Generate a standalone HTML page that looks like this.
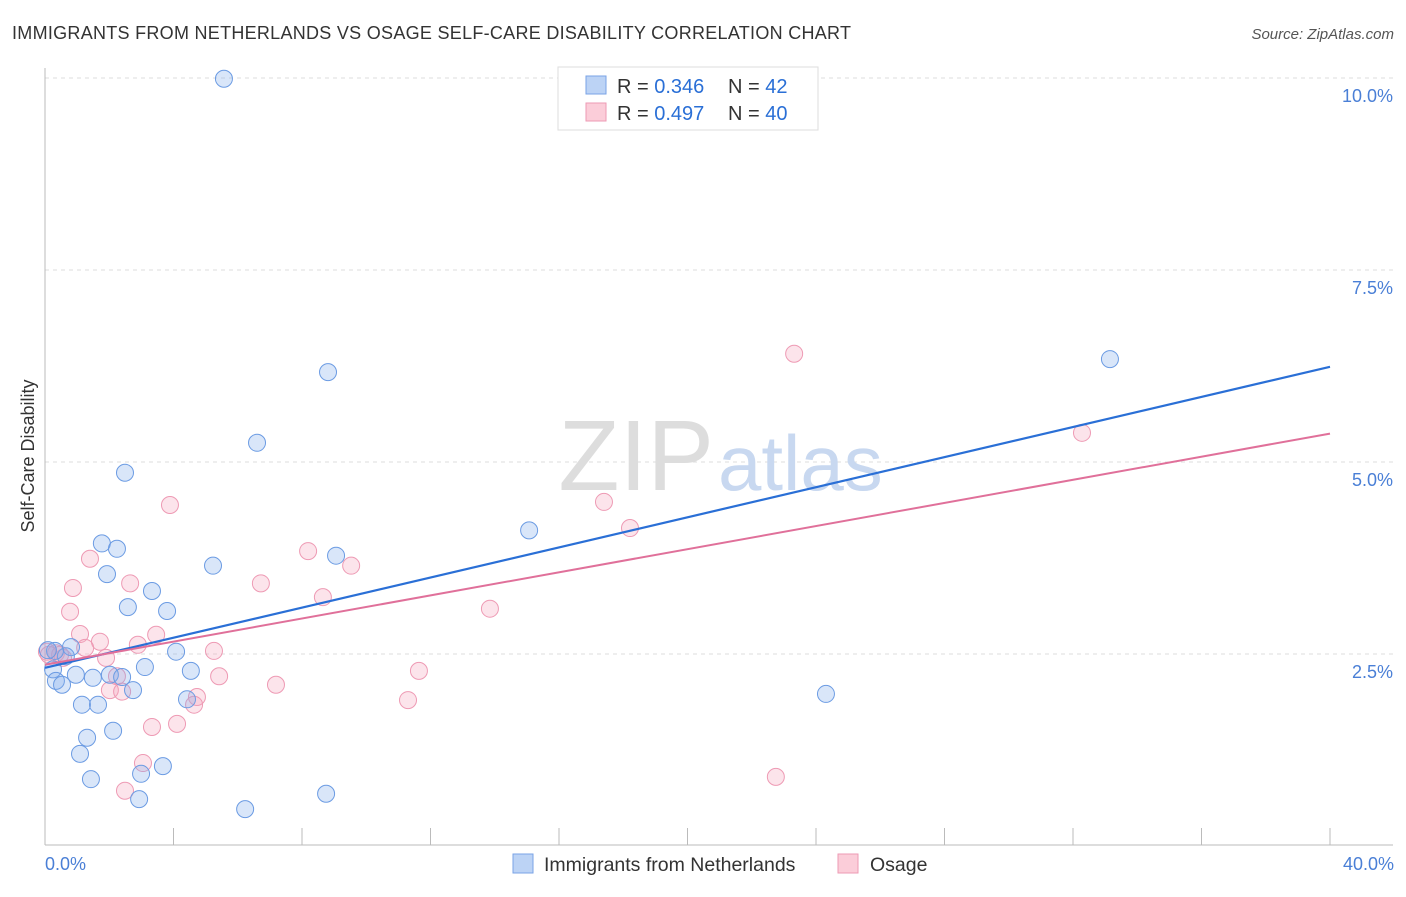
<!DOCTYPE html>
<html><head><meta charset="utf-8"><style>
body{margin:0;background:#fff;font-family:"Liberation Sans",sans-serif;}
svg text{font-family:"Liberation Sans",sans-serif;}
</style></head><body>
<svg width="1406" height="892" xmlns="http://www.w3.org/2000/svg">
<text x="12" y="39" font-size="18" fill="#333" textLength="839">IMMIGRANTS FROM NETHERLANDS VS OSAGE SELF-CARE DISABILITY CORRELATION CHART</text>
<text x="1394" y="39" font-size="15" fill="#555" text-anchor="end" font-style="italic">Source: ZipAtlas.com</text>
<g id="grid"></g>
<text x="714" y="490" font-size="100" font-family="Liberation Serif" fill="#ddd" text-anchor="end">ZIP</text>
<text x="718" y="490" font-size="78" fill="#c8d8f0">atlas</text>
<line x1="45" y1="68" x2="45" y2="845" stroke="#bbb"/>
<line x1="45" y1="845" x2="1393" y2="845" stroke="#bbb"/>
<g id="plot"></g>
<text x="34" y="456" font-size="18" fill="#333" text-anchor="middle" transform="rotate(-90 34 456)">Self-Care Disability</text>
<text x="45" y="870" font-size="18" fill="#4a7fd6">0.0%</text>
<text x="1394" y="870" font-size="18" fill="#4a7fd6" text-anchor="end">40.0%</text>
<g>
<rect x="558" y="67" width="260" height="63" fill="#fff" stroke="#ddd"/>
<rect x="586" y="76" width="20" height="18" fill="#bcd3f5" stroke="#7aa3e6"/>
<rect x="586" y="103" width="20" height="18" fill="#fbcdd9" stroke="#ee9ab4"/>
<text x="617" y="93" font-size="20" fill="#333">R = <tspan fill="#2a6fd6">0.346</tspan></text>
<text x="728" y="93" font-size="20" fill="#333">N = <tspan fill="#2a6fd6"> 42</tspan></text>
<text x="617" y="120" font-size="20" fill="#333">R = <tspan fill="#2a6fd6">0.497</tspan></text>
<text x="728" y="120" font-size="20" fill="#333">N = <tspan fill="#2a6fd6">40</tspan></text>
</g>
<g>
<rect x="513" y="854" width="20" height="19" fill="#bcd3f5" stroke="#7aa3e6"/>
<text x="544" y="871" font-size="19.5" fill="#333">Immigrants from Netherlands</text>
<rect x="838" y="854" width="20" height="19" fill="#fbcdd9" stroke="#ee9ab4"/>
<text x="870" y="871" font-size="19.5" fill="#333">Osage</text>
</g>
</svg>
<script>
const yTicks=[2.5,5.0,7.5,10.0];
const xTicks=[0,4,8,12,16,20,24,28,32,36,40];
const blueX=[5.57,8.81,6.60,2.49,33.15,15.07,1.77,2.24,9.06,5.23,1.93,3.33,2.58,3.80,0.81,4.08,0.65,0.31,3.11,4.54,0.96,1.49,2.02,2.40,0.25,0.34,0.53,2.74,4.42,24.31,1.15,1.65,2.12,1.31,1.09,3.67,2.99,1.43,2.93,8.75,6.23,0.09];
const blueY=[9.99,6.17,5.25,4.86,6.34,4.11,3.94,3.87,3.78,3.65,3.54,3.32,3.11,3.06,2.59,2.53,2.47,2.54,2.33,2.28,2.23,2.19,2.23,2.20,2.30,2.15,2.10,2.03,1.91,1.98,1.84,1.84,1.50,1.41,1.20,1.04,0.94,0.87,0.61,0.68,0.48,2.55];
const pinkX=[23.32,32.28,3.89,17.40,18.21,1.40,8.19,9.53,0.87,2.65,6.72,8.65,0.78,13.85,1.09,3.46,2.89,1.71,5.26,1.25,0.34,0.06,0.56,1.90,11.64,5.42,2.24,7.19,4.73,2.02,2.40,4.64,11.30,3.33,4.11,3.05,2.49,22.75,0.12,0.47];
const pinkY=[6.41,5.38,4.44,4.48,4.14,3.74,3.84,3.65,3.36,3.42,3.42,3.24,3.05,3.09,2.76,2.75,2.62,2.66,2.54,2.58,2.51,2.53,2.45,2.45,2.28,2.21,2.21,2.10,1.94,2.03,2.01,1.84,1.90,1.55,1.59,1.08,0.72,0.90,2.49,2.49];
const blueTrend=[2.32,6.24];
const pinkTrend=[2.36,5.37];
const NS="http://www.w3.org/2000/svg";
const xs=v=>45+v/40*1285, ys=v=>846-v/2.5*192;
function mk(t,a,p){const e=document.createElementNS(NS,t);for(const k in a)e.setAttribute(k,a[k]);p.appendChild(e);return e;}
const grid=document.getElementById('grid'), plot=document.getElementById('plot');
yTicks.forEach(t=>{
  const l=mk('line',{x1:45,x2:1393,y1:ys(t),y2:ys(t),stroke:'#ddd','stroke-dasharray':'4,4'},grid);
  
  
  const tx=mk('text',{x:1393,y:ys(t)+24,'font-size':18,fill:'#4a7fd6','text-anchor':'end'},grid);
  tx.textContent=t.toFixed(1)+'%';
  
  
});
xTicks.forEach(t=>{
  const l=mk('line',{x1:xs(t),x2:xs(t),y1:828,y2:845,stroke:'#bbb'},grid);
  
  
});
function pts(X,Y,fill,stroke,name){X.forEach((x,i)=>{
  const c=mk('circle',{cx:xs(x),cy:ys(Y[i]),r:8.5,fill:fill,stroke:stroke,'stroke-width':1},plot);
  
  
});}
pts(pinkX,pinkY,'rgba(244,165,190,0.3)','#ee9ab4','osage-point');
pts(blueX,blueY,'rgba(130,172,236,0.3)','#6b9be3','netherlands-point');
const bl=mk('line',{x1:xs(0),y1:ys(blueTrend[0]),x2:xs(40),y2:ys(blueTrend[1]),stroke:'#2a6fd6','stroke-width':2.2},plot);


const pl=mk('line',{x1:xs(0),y1:ys(pinkTrend[0]),x2:xs(40),y2:ys(pinkTrend[1]),stroke:'#e0709a','stroke-width':2},plot);


</script>
</body></html>
